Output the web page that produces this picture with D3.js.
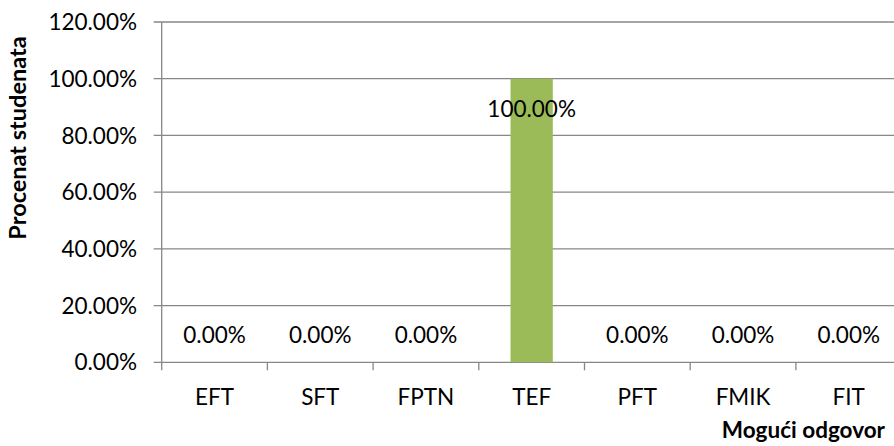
<!DOCTYPE html>
<html><head><meta charset="utf-8">
<script src="https://cdn.jsdelivr.net/npm/d3@7"></script>
<style>body{margin:0;background:#fff}svg{display:block}text{font-family:Lato,"Open Sans",sans-serif}</style>
</head><body><svg id="c" width="894" height="446"></svg>
<script>
const categories = ["EFT","SFT","FPTN","TEF","PFT","FMIK","FIT"];
const values = [0, 0, 0, 1, 0, 0, 0];
const yTicks = [0, 0.2, 0.4, 0.6, 0.8, 1.0, 1.2];
const yTitle = "Procenat studenata";
const xTitle = "Mogući odgovor";

const svg = d3.select("#c");
const L = 161.7, R = 901.6, T = 22, B = 362.3;
const x = d3.scaleBand().domain(categories).range([L, R]).paddingInner(0).paddingOuter(0);
const y = d3.scaleLinear().domain([0, 1.2]).range([B, T]);
const fmt = v => (v*100).toFixed(2) + "%";
const grid = "#878787";
const fs = 22.5, fsT = 22.5;

const gy = svg.append("g");
yTicks.forEach(t => {
  gy.append("line").attr("x1", L - 8).attr("x2", R).attr("y1", y(t)).attr("y2", y(t))
    .attr("stroke", grid).attr("stroke-width", 1.3);
  gy.append("text").attr("x", 137).attr("y", y(t)).attr("dy", "0.36em")
    .attr("text-anchor", "end").attr("font-size", fs).attr("fill", "#000").text(fmt(t));
});
svg.append("line").attr("x1", L).attr("x2", L).attr("y1", T).attr("y2", B + 8)
  .attr("stroke", grid).attr("stroke-width", 1.3);
categories.forEach((c, i) => {
  if (i === 0) return;
  svg.append("line").attr("x1", x(c)).attr("x2", x(c)).attr("y1", B).attr("y2", B + 8)
    .attr("stroke", grid).attr("stroke-width", 1.3);
});
const bw = x.bandwidth() * 0.4;
svg.append("g").selectAll("rect").data(values).join("rect")
  .attr("x", (d, i) => x(categories[i]) + x.bandwidth()/2 - bw/2)
  .attr("width", bw)
  .attr("y", d => y(d))
  .attr("height", d => B - y(d))
  .attr("fill", "#9BBB59");
svg.append("g").selectAll("text").data(values).join("text")
  .attr("x", (d, i) => x(categories[i]) + x.bandwidth()/2)
  .attr("y", d => d > 0.5 ? y(d) + 30 : y(d) - 27)
  .attr("dy", "0.36em").attr("text-anchor", "middle").attr("font-size", fs).attr("fill", "#000")
  .text(d => fmt(d));
svg.append("g").selectAll("text").data(categories).join("text")
  .attr("x", d => x(d) + x.bandwidth()/2).attr("y", 397).attr("dy", "0.36em")
  .attr("text-anchor", "middle").attr("font-size", fs).attr("fill", "#000").text(d => d);
svg.append("text").attr("x", 885).attr("y", 430).attr("dy", "0.36em").attr("text-anchor", "end")
  .attr("font-size", fsT).attr("font-weight", "bold").attr("fill", "#000").text(xTitle);
svg.append("text").attr("transform", "translate(18,138) rotate(-90)").attr("dy", "0.36em")
  .attr("text-anchor", "middle").attr("font-size", 23.5).attr("font-weight", "bold").attr("fill", "#000").text(yTitle);
</script></body></html>
